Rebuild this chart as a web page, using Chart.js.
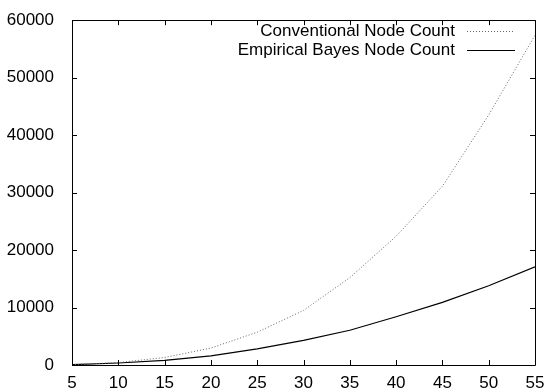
<!DOCTYPE html>
<html>
<head>
<meta charset="utf-8">
<script src="https://cdn.jsdelivr.net/npm/chart.js@4/dist/chart.umd.min.js"></script>
<style>
  html, body { margin: 0; padding: 0; background: #fff; }
  #wrap { width: 557px; height: 390px; position: relative; }
</style>
</head>
<body>
<div id="wrap"><canvas id="c" width="557" height="390"></canvas></div>
<script>
const xValues = [5, 10, 15, 20, 25, 30, 35, 40, 45, 50, 55];
const conventionalCounts = [60, 420, 1300, 2950, 5700, 9500, 15200, 22400, 31100, 43500, 57400];
const empiricalBayesCounts = [50, 350, 800, 1600, 2800, 4300, 6050, 8400, 10900, 13800, 17100];
const seriesNames = ["Conventional Node Count", "Empirical Bayes Node Count"];
const xTicks = [5, 10, 15, 20, 25, 30, 35, 40, 45, 50, 55];
const yTicks = [0, 10000, 20000, 30000, 40000, 50000, 60000];

const FONT = "'Liberation Sans', Arial, Helvetica, sans-serif";
const FONT_SIZE = 17;

function pts(ys) { return xValues.map((x, i) => ({ x: x, y: ys[i] })); }

const frameAndLegend = {
  id: 'frameAndLegend',
  afterDraw(chart) {
    const ctx = chart.ctx;
    const a = chart.chartArea;
    const xs = chart.scales.x, ys = chart.scales.y;
    ctx.save();
    ctx.strokeStyle = '#000';
    ctx.lineWidth = 1;
    ctx.beginPath();
    ctx.rect(Math.round(a.left) + 0.5, Math.round(a.top) + 0.5,
             Math.round(a.right - a.left), Math.round(a.bottom - a.top));
    ctx.stroke();
    const tl = 5;
    ctx.beginPath();
    xTicks.forEach(v => {
      const px = Math.round(xs.getPixelForValue(v)) + 0.5;
      ctx.moveTo(px, a.bottom); ctx.lineTo(px, a.bottom - tl);
      ctx.moveTo(px, a.top); ctx.lineTo(px, a.top + tl);
    });
    yTicks.forEach(v => {
      const py = Math.round(ys.getPixelForValue(v)) + 0.5;
      ctx.moveTo(a.left, py); ctx.lineTo(a.left + tl, py);
      ctx.moveTo(a.right, py); ctx.lineTo(a.right - tl, py);
    });
    ctx.stroke();

    // gnuplot-style key: text right-aligned, sample line at right
    const ds = chart.data.datasets;
    const textRight = a.right - 80;
    const lineX0 = a.right - 68, lineX1 = a.right - 20;
    ctx.font = FONT_SIZE + 'px ' + FONT;
    ctx.fillStyle = '#000';
    ctx.textAlign = 'right';
    ctx.textBaseline = 'middle';
    ds.forEach((d, i) => {
      const y = a.top + 11 + i * 19;
      ctx.fillText(d.label, textRight, y);
      ctx.save();
      ctx.strokeStyle = d.borderColor;
      ctx.lineWidth = d.borderWidth;
      ctx.setLineDash(d.borderDash || []);
      ctx.beginPath();
      ctx.moveTo(lineX0, Math.round(y) + 0.5);
      ctx.lineTo(lineX1, Math.round(y) + 0.5);
      ctx.stroke();
      ctx.restore();
    });
    ctx.restore();
  }
};

new Chart(document.getElementById('c'), {
  type: 'line',
  data: {
    datasets: [
      {
        label: seriesNames[0],
        data: pts(conventionalCounts),
        borderColor: '#666666',
        borderWidth: 1,
        borderDash: [1, 2],
        pointRadius: 0,
        tension: 0,
        fill: false
      },
      {
        label: seriesNames[1],
        data: pts(empiricalBayesCounts),
        borderColor: '#000000',
        borderWidth: 1.2,
        pointRadius: 0,
        tension: 0,
        fill: false
      }
    ]
  },
  options: {
    responsive: false,
    animation: false,
    devicePixelRatio: 1,
    layout: { padding: { left: 0, right: 22, top: 18, bottom: 0 } },
    plugins: { legend: { display: false }, tooltip: { enabled: false } },
    scales: {
      x: {
        type: 'linear',
        min: 5, max: 55,
        grid: { display: false },
        border: { display: false },
        afterBuildTicks(s) { s.ticks = xTicks.map(v => ({ value: v })); },
        afterFit(s) { s.height = 25; },
        ticks: { color: '#000', padding: 0, maxRotation: 0, autoSkip: false,
                 font: { family: FONT, size: FONT_SIZE } }
      },
      y: {
        type: 'linear',
        min: 0, max: 60000,
        grid: { display: false },
        border: { display: false },
        afterBuildTicks(s) { s.ticks = yTicks.map(v => ({ value: v })); },
        afterFit(s) { s.width = 72; },
        ticks: { color: '#000', padding: 10, autoSkip: false,
                 callback: v => String(v),
                 font: { family: FONT, size: FONT_SIZE } }
      }
    }
  },
  plugins: [frameAndLegend]
});
</script>
</body>
</html>
